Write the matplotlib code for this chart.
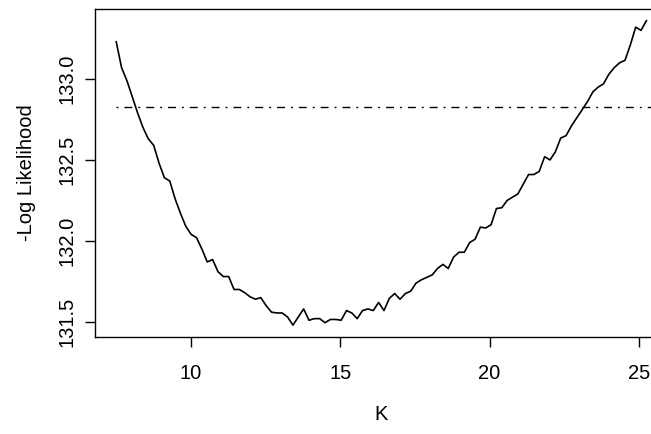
import numpy as np
import matplotlib
matplotlib.use("Agg")
import matplotlib.pyplot as plt
from matplotlib.ticker import FormatStrFormatter

plt.rcParams['font.family'] = ['Liberation Sans', 'DejaVu Sans']

# K grid (100 values, evenly spaced)
k_values = np.linspace(7.5, 25.25, 100)

# -log likelihood
neg_log_lik = [
    133.23, 133.07, 132.99, 132.89, 132.79, 132.70, 132.63, 132.59, 132.48, 132.39,
    132.37, 132.26, 132.17, 132.09, 132.04, 132.02, 131.95, 131.87, 131.885, 131.81,
    131.78, 131.78, 131.70, 131.70, 131.68, 131.655, 131.64, 131.65, 131.60, 131.56,
    131.555, 131.555, 131.53, 131.48, 131.53, 131.58, 131.51, 131.52, 131.52, 131.495,
    131.515, 131.515, 131.51, 131.57, 131.555, 131.52, 131.57, 131.58, 131.57, 131.62,
    131.57, 131.645, 131.675, 131.64, 131.675, 131.69, 131.74, 131.76, 131.775, 131.79,
    131.83, 131.855, 131.83, 131.90, 131.93, 131.93, 131.99, 132.01, 132.085, 132.08,
    132.10, 132.20, 132.205, 132.25, 132.27, 132.29, 132.35, 132.41, 132.41, 132.43,
    132.52, 132.50, 132.55, 132.635, 132.65, 132.71, 132.76, 132.81, 132.86, 132.92,
    132.95, 132.97, 133.03, 133.07, 133.10, 133.115, 133.21, 133.32, 133.30, 133.36,
]

# cut-off level (dot-dash line)
threshold = 132.83

x_ticks = [10, 15, 20, 25]
y_ticks = [131.5, 132.0, 132.5, 133.0]

fig = plt.figure(figsize=(6.51, 4.34), dpi=100)
# axes run past the right edge of the picture, like the cropped original
ax = fig.add_axes([95 / 651, 96.7 / 434, 572.6 / 651, 328.8 / 434])

ax.plot(k_values, neg_log_lik, color="black", lw=1.2)
ax.margins(x=0.04, y=0.04)
ax.autoscale_view()
x_left, x_right = ax.get_xlim()

ax.plot([k_values[0], x_right + 1], [threshold, threshold], color="black",
        lw=1.0, dashes=(1.4, 4.3, 5.7, 4.3))
ax.set_xlim(x_left, x_right)

ax.set_xticks(x_ticks)
ax.set_yticks(y_ticks)
ax.yaxis.set_major_formatter(FormatStrFormatter('%.1f'))
ax.tick_params(direction="out", length=7, width=1, labelsize=14.5, color="black")
ax.tick_params(axis="x", pad=12)
ax.tick_params(axis="y", pad=6)
for lab in ax.get_yticklabels():
    lab.set_rotation(90)
    lab.set_va("center")

for sp in ax.spines.values():
    sp.set_linewidth(1.0)
    sp.set_color("black")

ax.set_xlabel("K", fontsize=14.5, va="center")
ax.set_ylabel("-Log Likelihood", fontsize=14.5, va="center")
ax.xaxis.set_label_coords(0.5, -0.236)
ax.yaxis.set_label_coords(-0.1188, 0.5)

plt.savefig("out.png", dpi=100)
